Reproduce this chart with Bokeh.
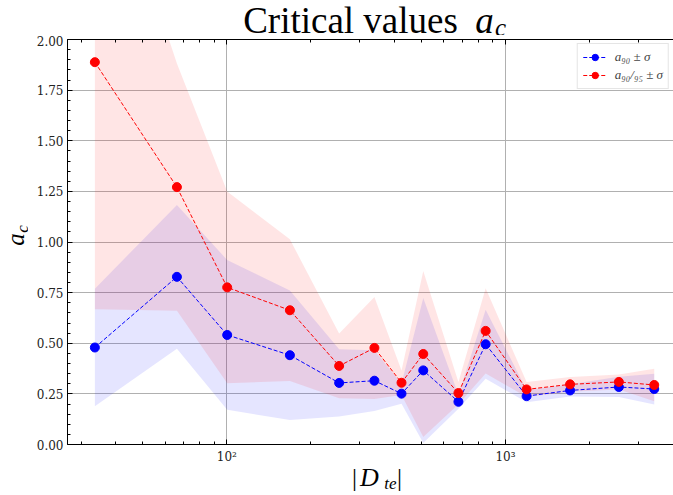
import numpy as np
from bokeh.plotting import figure
from bokeh.layouts import column, row
from bokeh.models import (Range1d, FixedTicker, LogAxis, Label, Legend, LegendItem,
                          ColumnDataSource, PrintfTickFormatter)
from bokeh.embed import file_html
from bokeh.resources import INLINE

# Test-set sizes |D_te|
d_te = [33.6, 66.2, 100.3, 168.4, 253, 338.6, 423.6, 507, 678, 849, 1191, 1706, 2553, 3420]
# critical value a_90 and its spread
a90 = [0.479, 0.828, 0.541, 0.441, 0.304, 0.315, 0.251, 0.366, 0.211, 0.495, 0.239, 0.267, 0.284, 0.274]
a90_sd = [0.29, 0.355, 0.37, 0.32, 0.166, 0.15, 0.05, 0.358, 0.035, 0.17, 0.03, 0.03, 0.05, 0.076]
# critical value a_90/95 and its spread
a9095 = [1.888, 1.271, 0.776, 0.663, 0.388, 0.477, 0.305, 0.447, 0.254, 0.561, 0.272, 0.297, 0.309, 0.294]
a9095_sd = [1.22, 0.61, 0.473, 0.35, 0.16, 0.252, 0.06, 0.41, 0.055, 0.21, 0.037, 0.036, 0.037, 0.08]

y_ticks = [0.0, 0.25, 0.5, 0.75, 1.0, 1.25, 1.5, 1.75, 2.0]
y_minor = [round(i * 0.05, 2) for i in range(41)]
x_ticks = [100, 1000]
x_tick_labels = ["10²", "10³"]
x_minor = [30, 40, 50, 60, 70, 80, 90, 200, 300, 400, 500, 600, 700, 800, 900, 2000, 3000, 4000]

BLUE = "#0000ff"
RED = "#ff0000"
SERIF = "DejaVu Serif"
MATH = "Liberation Serif"

# page geometry: title strip, y-label strip + main plot, x-label strip
W, H = 673, 495
TITLE_H = 35
YLAB_W = 28
MAIN_H = 4 + 405 + 22
XLAB_H = H - TITLE_H - MAIN_H

src = ColumnDataSource(dict(
    x=d_te,
    b=a90, b_lo=[m - s for m, s in zip(a90, a90_sd)], b_hi=[m + s for m, s in zip(a90, a90_sd)],
    r=a9095, r_lo=[m - s for m, s in zip(a9095, a9095_sd)], r_hi=[m + s for m, s in zip(a9095, a9095_sd)],
))

p = figure(width=W - YLAB_W, height=MAIN_H, x_axis_type="log", output_backend="svg",
           toolbar_location=None,
           x_range=Range1d(26.8, 4010), y_range=Range1d(0, 2),
           min_border_left=67 - YLAB_W, min_border_right=0, min_border_top=4, min_border_bottom=22)
p.outline_line_color = None
p.background_fill_color = "white"
p.border_fill_color = "white"

# shaded +/- sigma bands
p.varea(x="x", y1="b_lo", y2="b_hi", source=src, fill_color=BLUE, fill_alpha=0.1)
p.varea(x="x", y1="r_lo", y2="r_hi", source=src, fill_color=RED, fill_alpha=0.1)

lb = p.line("x", "b", source=src, line_color=BLUE, line_width=1, line_dash="4 2")
sb = p.scatter("x", "b", source=src, size=9, color=BLUE)
lr = p.line("x", "r", source=src, line_color=RED, line_width=1, line_dash="4 2")
sr = p.scatter("x", "r", source=src, size=9, color=RED)

# axes: inward ticks, matplotlib-like
xt = FixedTicker(ticks=x_ticks, minor_ticks=x_minor)
yt = FixedTicker(ticks=y_ticks, minor_ticks=y_minor)

def style_axis(ax):
    ax.axis_line_color = "black"
    ax.axis_line_width = 1
    ax.major_tick_in = 5
    ax.major_tick_out = 0
    ax.minor_tick_in = 3
    ax.minor_tick_out = 0
    ax.major_tick_line_color = "black"
    ax.minor_tick_line_color = "black"
    ax.major_label_text_font = SERIF
    ax.major_label_text_font_size = "12px"
    ax.major_label_text_color = "#222222"
    ax.major_label_standoff = 4

xa = p.xaxis[0]
xa.ticker = xt
xa.major_label_overrides = dict(zip(x_ticks, x_tick_labels))
style_axis(xa)
xa.major_label_standoff = 5
ya = p.yaxis[0]
ya.ticker = yt
ya.formatter = PrintfTickFormatter(format="%.2f")
style_axis(ya)

top = LogAxis(ticker=FixedTicker(ticks=x_ticks, minor_ticks=x_minor))
style_axis(top)
top.major_label_text_color = None
top.major_label_text_font_size = "1px"
top.major_label_standoff = 0
p.add_layout(top, "above")

p.xgrid.ticker = xt
p.ygrid.ticker = yt
p.xgrid.grid_line_color = "#b0b0b0"
p.ygrid.grid_line_color = "#b0b0b0"
p.xgrid.grid_line_width = 1
p.ygrid.grid_line_width = 1

legend = Legend(items=[
    LegendItem(label="a₉₀ ± σ", renderers=[lb, sb]),
    LegendItem(label="a₉₀/₉₅ ± σ", renderers=[lr, sr]),
], location="top_right")
legend.margin = 4
legend.padding = 5
legend.spacing = 2
legend.glyph_width = 24
legend.glyph_height = 16
legend.label_standoff = 8
legend.label_text_font = MATH
legend.label_text_font_style = "italic"
legend.label_text_font_size = "13px"
legend.border_line_color = "#cccccc"
legend.background_fill_alpha = 0.85
p.add_layout(legend)


def strip(w, h):
    """A bare canvas strip that only carries text."""
    f = figure(width=w, height=h, output_backend="svg", toolbar_location=None,
               x_axis_location=None, y_axis_location=None, min_border=0,
               x_range=Range1d(0, w), y_range=Range1d(0, h))
    f.outline_line_color = None
    f.border_fill_color = "white"
    f.background_fill_color = "white"
    for g in f.grid:
        g.visible = False
    return f


def lab(f, x, y, text, size, style="normal", angle=0.0):
    # text centred on (x, y), y measured up from the strip's bottom edge
    f.add_layout(Label(x=x, y=y, x_units="screen", y_units="screen",
                       text=text, text_font=MATH, text_font_style=style,
                       text_font_size=f"{size}px", text_align="center",
                       text_baseline="middle", angle=angle, text_color="black"))


# title: Critical values a_c  (centres given from the page top)
t = strip(W, TITLE_H)
lab(t, 350, TITLE_H - 20, "Critical values", 37)
lab(t, 484, TITLE_H - 20, "a", 37, "italic")
lab(t, 500, TITLE_H - 27, "c", 25, "italic")

# y label: a_c, rotated; the rotated text box sits higher than its anchor
yl = strip(YLAB_W, MAIN_H)
ybot = TITLE_H + MAIN_H
ROT_SHIFT = 23
lab(yl, 15, ybot - (238 + ROT_SHIFT), "a", 25, "italic", angle=np.pi / 2)
lab(yl, 21.5, ybot - (227.5 + ROT_SHIFT), "c", 17, "italic", angle=np.pi / 2)

# x label: |D_te|
xl = strip(W, XLAB_H)
lab(xl, 354, H - 477, "|", 25)
lab(xl, 369, H - 477, "D", 26, "italic")
lab(xl, 390, H - 483, "te", 17, "italic")
lab(xl, 399, H - 477, "|", 25)

page = column(t, row(yl, p, spacing=0), xl, spacing=0)
open("out.html", "w").write(file_html(page, INLINE))
